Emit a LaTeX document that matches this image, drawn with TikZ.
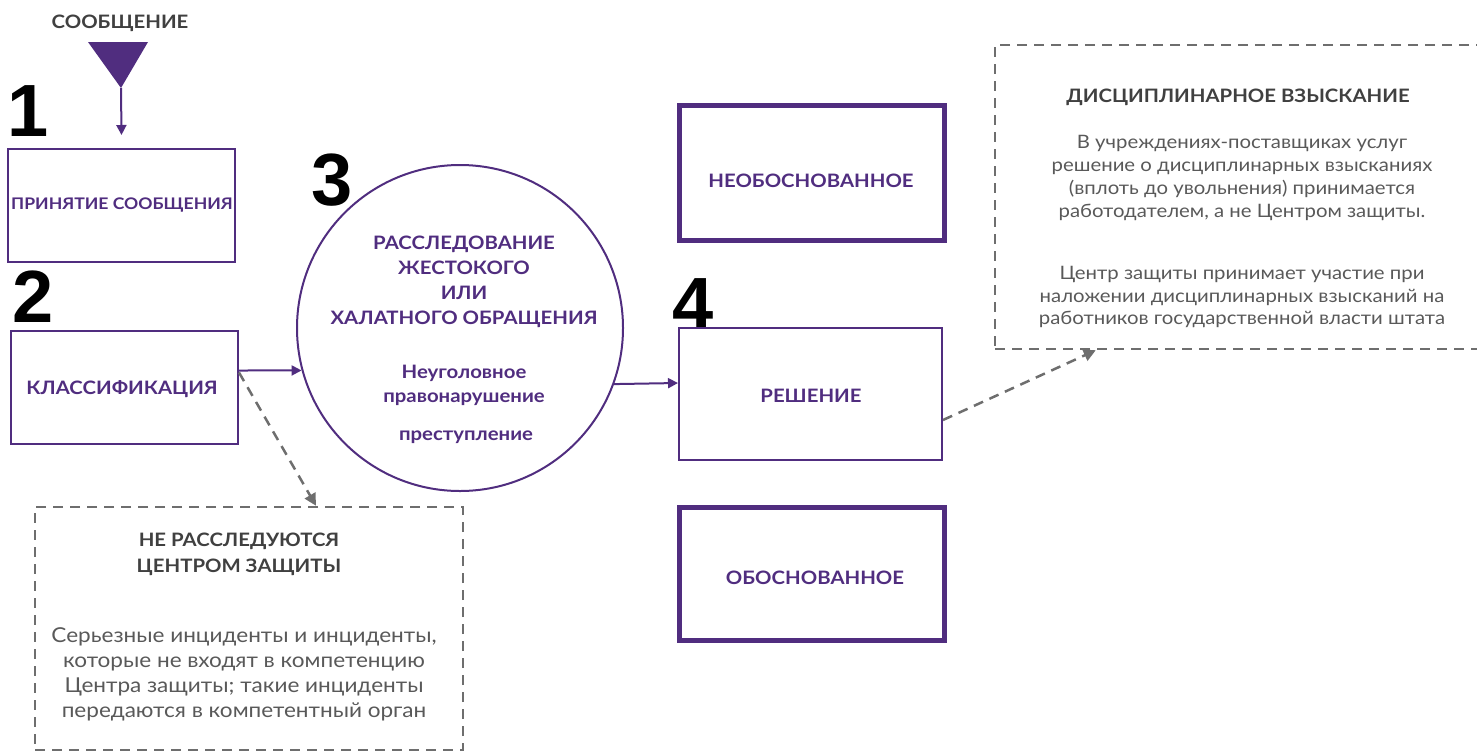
\documentclass[tikz,border=0pt]{standalone}
\usepackage{fontspec}
\setmainfont{Lato}[FakeStretch=1.1]
\newfontfamily\numfont{Liberation Sans}
\usetikzlibrary{arrows.meta,calc}
\definecolor{pur}{RGB}{80,45,127}
\definecolor{dgray}{RGB}{64,64,64}
\definecolor{bgray}{RGB}{89,89,89}
\definecolor{lgray}{RGB}{110,110,110}
\tikzset{
  thinbox/.style={draw=pur,line width=2pt,inner sep=0pt},
  thickbox/.style={draw=pur,line width=5pt,inner sep=0pt},
  lab/.style={text=pur,font=\bfseries\fontsize{18.5}{25}\selectfont,align=center,inner sep=0pt},
  num/.style={text=black,font=\numfont\bfseries\fontsize{74}{74}\selectfont,inner sep=0pt},
  dbox/.style={draw=lgray,line width=2.5pt,dash pattern=on 10pt off 7pt,inner sep=0pt},
  dtitle/.style={text=dgray,font=\bfseries\fontsize{18.5}{26}\selectfont,align=center,inner sep=0pt},
  dbody/.style={text=bgray,font=\fontsize{18.5}{22.7}\selectfont,align=center,inner sep=0pt},
  parrow/.style={draw=pur,line width=2pt,-{Triangle[length=10pt,width=10pt]}},
  darrow/.style={draw=lgray,line width=2.5pt,dash pattern=on 10pt off 7pt,-{Triangle[length=12pt,width=12pt]}}
}
\begin{document}
\begin{tikzpicture}[x=1pt,y=-1pt]
\useasboundingbox (0,0) rectangle (1477,753);
% top message
\node[text=dgray,font=\bfseries\fontsize{18.5}{20}\selectfont,inner sep=0pt] (msg) at (120,23) {СООБЩЕНИЕ};
\fill[pur] (88,42) -- (148,42) -- (121,88) coordinate (tri) -- cycle;
% step 1
\node[num] (n1) at (28,111) {1};
\node[thinbox,minimum width=227pt,minimum height=113pt] (b1) at (121.5,205.5) {};
\node[lab,font=\bfseries\fontsize{16}{20}\selectfont] (t1) at (122,205) {ПРИНЯТИЕ СООБЩЕНИЯ};
\draw[parrow] (tri) -- ($(b1.north)+(0,-13)$);
% step 2
\node[num] (n2) at (33,297) {2};
\node[thinbox,minimum width=227pt,minimum height=113pt] (b2) at (124.5,387.5) {};
\node[lab] (t2) at (122,389) {КЛАССИФИКАЦИЯ};
% step 3
\node[num] (n3) at (332,180) {3};
\node[draw=pur,line width=2pt,circle,minimum size=326pt,inner sep=0pt] (c3) at (460,328) {};
\node[lab] (t3) at (464,282) {РАССЛЕДОВАНИЕ\\ЖЕСТОКОГО\\ИЛИ\\ХАЛАТНОГО ОБРАЩЕНИЯ};
\node[lab,font=\bfseries\fontsize{18.5}{24}\selectfont] (t3b) at (464,385) {Неуголовное\\правонарушение};
\node[lab] (t3c) at (466,437) {преступление};
\draw[parrow] ($(b2.east)+(0,-17)$) -- (c3.195);
% step 4
\node[num] (n4) at (693,304) {4};
\node[thickbox,minimum width=265pt,minimum height=135pt] (bn) at (811.5,172.5) {};
\node[lab] (tn) at (811,181) {НЕОБОСНОВАННОЕ};
\node[thinbox,minimum width=263pt,minimum height=132pt] (br) at (810.5,394) {};
\node[lab] (tr) at (811,396) {РЕШЕНИЕ};
\node[thickbox,minimum width=265pt,minimum height=133pt] (bo) at (811.5,573.5) {};
\node[lab] (to) at (815,578) {ОБОСНОВАННОЕ};
\draw[parrow] (c3.-20) -- ($(br.west)+(0,-11)$);
% left dashed box
\node[dbox,minimum width=428pt,minimum height=243pt] (dl) at (249,628.5) {};
\node[dtitle] (dlt) at (239,554) {НЕ РАССЛЕДУЮТСЯ\\ЦЕНТРОМ ЗАЩИТЫ};
\node[dbody,font=\fontsize{20.5}{25}\selectfont] (dlb) at (244,674) {Серьезные инциденты и инциденты,\\которые не входят в компетенцию\\Центра защиты; такие инциденты\\передаются в компетентный орган};
\draw[darrow] ($(b2.east)+(0,-15)$) -- ($(dl.north)+(67,0)$);
% right dashed box
\node[dbox,minimum width=510pt,minimum height=304pt] (dr) at (1250,197) {};
\node[dtitle] (drt) at (1238,97) {ДИСЦИПЛИНАРНОЕ ВЗЫСКАНИЕ};
\node[dbody] (drb1) at (1242,178) {В учреждениях-поставщиках услуг\\решение о дисциплинарных взысканиях\\(вплоть до увольнения) принимается\\работодателем, а не Центром защиты.};
\node[dbody] (drb2) at (1242,297) {Центр защиты принимает участие при\\наложении дисциплинарных взысканий на\\работников государственной власти штата};
\draw[darrow] ($(br.east)+(0,26)$) -- ($(dr.south west)+(102,0)$);
\end{tikzpicture}
\end{document}
